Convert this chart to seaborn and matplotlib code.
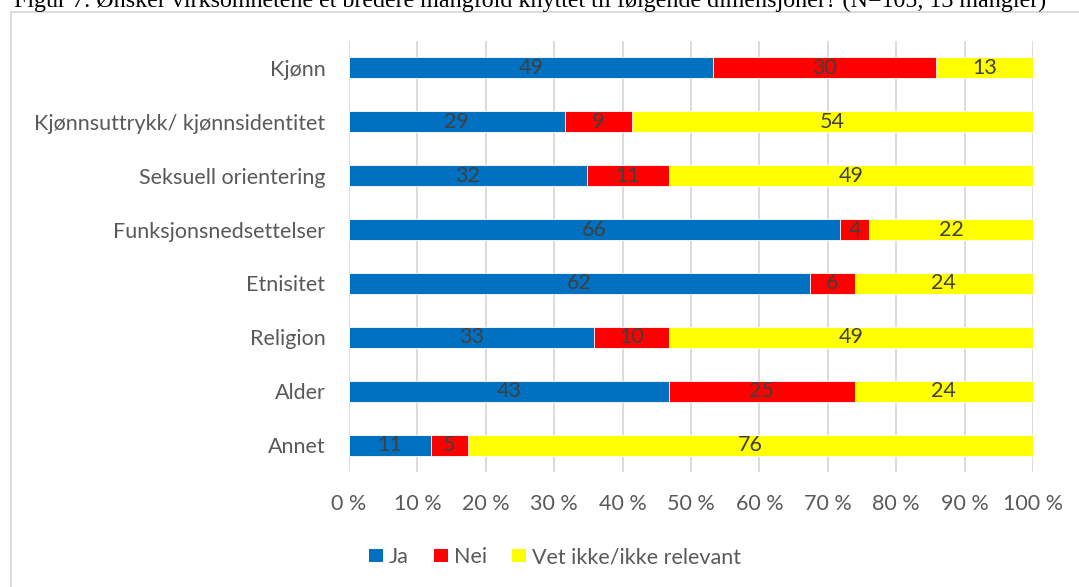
import matplotlib
matplotlib.use("Agg")
import matplotlib.pyplot as plt
import seaborn as sns
import pandas as pd
import numpy as np
from matplotlib.patches import Rectangle, Patch

categories = ["Kjønn", "Kjønnsuttrykk/ kjønnsidentitet", "Seksuell orientering",
              "Funksjonsnedsettelser", "Etnisitet", "Religion", "Alder", "Annet"]
ja = [49, 29, 32, 66, 62, 33, 43, 11]
nei = [30, 9, 11, 4, 6, 10, 25, 5]
vet_ikke = [13, 54, 49, 22, 24, 49, 24, 76]
series_names = ["Ja", "Nei", "Vet ikke/ikke relevant"]
colors = ["#0070C0", "#FF0000", "#FFFF00"]
xtick_labels = [f"{v} %" for v in range(0, 101, 10)]
title = "Figur 7. Ønsker virksomhetene et bredere mangfold knyttet til følgende dimensjoner? (N=105, 13 mangler)"

sns.set_theme(style="white")
plt.rcParams['font.family'] = ['Lato', 'DejaVu Sans']

FS = 15.5

df = pd.DataFrame({"kat": categories, "ja": ja, "nei": nei, "vet": vet_ikke})
df["total"] = df["ja"] + df["nei"] + df["vet"]
df["p_ja"] = df["ja"] / df["total"] * 100
df["p_nei"] = df["nei"] / df["total"] * 100
df["p_vet"] = df["vet"] / df["total"] * 100
df["c1"] = df["p_ja"]
df["c2"] = df["p_ja"] + df["p_nei"]
df["c3"] = df["c2"] + df["p_vet"]

W, H = 1079, 587
fig = plt.figure(figsize=(W / 100, H / 100), dpi=100)
ax = fig.add_axes([349 / W, 1 - 472 / H, (1033 - 349) / W, (472 - 41) / H])

bw = 0.39
for col, c in zip(["c3", "c2", "c1"], colors[::-1]):
    sns.barplot(data=df, y="kat", x=col, color=c, orient="h", width=bw,
                ax=ax, edgecolor="white", linewidth=0.6, saturation=1)

# data labels centered in segments
for i, row in df.iterrows():
    starts = [0, row["c1"], row["c2"]]
    widths = [row["p_ja"], row["p_nei"], row["p_vet"]]
    vals = [row["ja"], row["nei"], row["vet"]]
    for s, w, v in zip(starts, widths, vals):
        ax.text(s + w / 2, i, str(v), ha="center", va="center",
                fontsize=FS, color="#404040")

ax.set_xlim(0, 100)
ax.set_ylim(len(categories) - 0.5, -0.5)
ax.set_xticks(range(0, 101, 10))
ax.set_xticklabels(xtick_labels)
ax.set_xlabel("")
ax.set_ylabel("")
ax.tick_params(axis="both", length=0, labelsize=FS, colors="#595959")
ax.tick_params(axis="x", pad=16)
ax.tick_params(axis="y", pad=17)
for s in ax.spines.values():
    s.set_visible(False)
ax.grid(axis="x", color="#D9D9D9", linewidth=1.3)
ax.grid(axis="y", visible=False)
ax.set_axisbelow(True)

handles = [Patch(facecolor=c, edgecolor="none") for c in colors]
leg = fig.legend(handles, series_names, loc="center", bbox_to_anchor=(555 / W, 1 - 557 / H),
                 ncol=3, frameon=False, fontsize=FS, handlelength=0.65, handleheight=0.6,
                 handletextpad=0.3, columnspacing=1.15, labelcolor="#595959")

# chart frame
fig.patches.append(Rectangle((11 / W, -0.05), 1.2, 1 - 12 / H + 0.05, transform=fig.transFigure,
                             fill=False, edgecolor="#D9D9D9", linewidth=1.3, zorder=0))

fig.text(14 / W, 1 - 7 / H, title, ha="left", va="baseline",
         fontsize=17.3, family=["Liberation Serif", "DejaVu Serif"], color="black")

fig.savefig("out.png", dpi=100)
